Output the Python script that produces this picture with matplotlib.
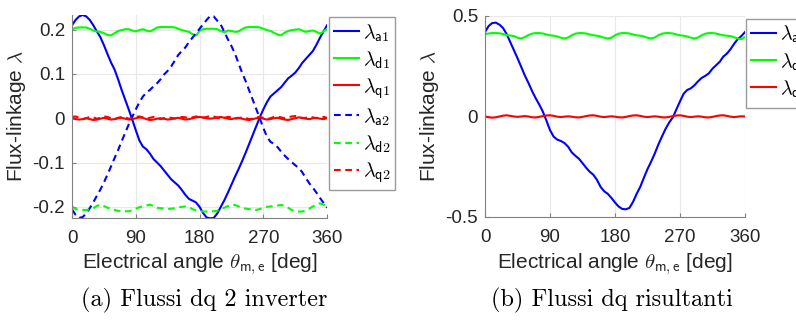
import numpy as np
import matplotlib
matplotlib.use("Agg")
import matplotlib.pyplot as plt

plt.rcParams['font.family'] = ['Liberation Sans', 'DejaVu Sans']
plt.rcParams['mathtext.fontset'] = 'cm'

# electrical angle grid, 5 deg steps
angle = np.arange(0, 361, 5)

# --- two-inverter dq fluxes ---
lam_a1 = [0.210, 0.222, 0.230, 0.233, 0.230, 0.222, 0.210, 0.196, 0.183, 0.165,
          0.145, 0.126, 0.110, 0.088, 0.064, 0.042, 0.020, -0.003, -0.027, -0.050,
          -0.064, -0.070, -0.080, -0.092, -0.100, -0.108, -0.118, -0.128, -0.138, -0.145,
          -0.152, -0.162, -0.173, -0.182, -0.186, -0.190, -0.200, -0.214, -0.224, -0.226,
          -0.225, -0.215, -0.200, -0.185, -0.168, -0.150, -0.132, -0.115, -0.097, -0.078,
          -0.058, -0.038, -0.018, 0.002, 0.020, 0.036, 0.049, 0.056, 0.063, 0.070,
          0.080, 0.090, 0.096, 0.103, 0.113, 0.125, 0.134, 0.143, 0.152, 0.166,
          0.182, 0.196, 0.210]
lam_d1 = [0.201, 0.204, 0.205, 0.205, 0.205, 0.202, 0.198, 0.196, 0.195, 0.192,
          0.188, 0.187, 0.192, 0.197, 0.199, 0.201, 0.201, 0.198, 0.196, 0.199,
          0.201, 0.198, 0.196, 0.200, 0.205, 0.206, 0.206, 0.206, 0.206, 0.205,
          0.202, 0.199, 0.197, 0.195, 0.190, 0.187, 0.197, 0.201, 0.202, 0.202,
          0.202, 0.201, 0.197, 0.194, 0.198, 0.197, 0.195, 0.196, 0.201, 0.205,
          0.206, 0.206, 0.206, 0.205, 0.202, 0.199, 0.197, 0.193, 0.189, 0.187,
          0.193, 0.197, 0.199, 0.200, 0.201, 0.198, 0.195, 0.197, 0.198, 0.195,
          0.191, 0.196, 0.202]
lam_q1 = [0.000, -0.002, -0.003, -0.002, 0.000, -0.002, -0.004, -0.003, -0.001, 0.001,
          -0.001, -0.003, -0.002, 0.000, 0.001, -0.001, -0.003, -0.002, 0.000, 0.002,
          0.001, -0.002, -0.004, -0.003, -0.001, 0.000, -0.001, -0.003, -0.002, 0.000,
          0.001, -0.001, -0.003, -0.002, 0.000, 0.002, 0.003, 0.002, 0.000, -0.001,
          0.000, 0.002, 0.003, 0.001, -0.001, -0.002, 0.000, 0.001, -0.001, -0.003,
          -0.004, -0.002, 0.000, 0.001, -0.001, -0.003, -0.002, 0.000, 0.001, -0.001,
          -0.003, -0.004, -0.002, 0.000, 0.002, 0.001, -0.001, -0.002, 0.000, 0.001,
          -0.001, -0.002, 0.000]
lam_a2 = [-0.206, -0.218, -0.225, -0.223, -0.215, -0.203, -0.190, -0.175, -0.161, -0.145,
          -0.127, -0.109, -0.090, -0.072, -0.052, -0.033, -0.014, 0.003, 0.020, 0.036,
          0.049, 0.058, 0.064, 0.072, 0.079, 0.088, 0.099, 0.107, 0.117, 0.130,
          0.143, 0.152, 0.160, 0.172, 0.182, 0.192, 0.202, 0.212, 0.222, 0.231,
          0.230, 0.220, 0.211, 0.195, 0.178, 0.163, 0.146, 0.124, 0.103, 0.084,
          0.063, 0.042, 0.021, 0.000, -0.022, -0.041, -0.053, -0.058, -0.065, -0.075,
          -0.084, -0.092, -0.099, -0.106, -0.112, -0.122, -0.135, -0.147, -0.157, -0.168,
          -0.180, -0.191, -0.202]
lam_d2 = [-0.199, -0.205, -0.207, -0.207, -0.207, -0.206, -0.203, -0.198, -0.195, -0.198,
          -0.202, -0.204, -0.207, -0.209, -0.210, -0.210, -0.210, -0.208, -0.204, -0.201,
          -0.199, -0.197, -0.195, -0.198, -0.202, -0.203, -0.204, -0.205, -0.204, -0.203,
          -0.201, -0.200, -0.199, -0.201, -0.205, -0.208, -0.210, -0.2105, -0.2105, -0.2105,
          -0.210, -0.209, -0.206, -0.202, -0.198, -0.196, -0.196, -0.199, -0.202, -0.204,
          -0.205, -0.206, -0.207, -0.205, -0.202, -0.200, -0.199, -0.198, -0.197, -0.196,
          -0.197, -0.202, -0.207, -0.210, -0.2105, -0.2105, -0.208, -0.204, -0.199, -0.195,
          -0.192, -0.195, -0.199]
lam_q2 = [0.003, 0.004, 0.001, -0.002, 0.000, 0.003, 0.002, -0.001, 0.001, 0.004,
          0.003, 0.000, -0.002, 0.001, 0.003, 0.002, -0.001, 0.000, 0.003, 0.004,
          0.002, 0.000, 0.001, 0.003, 0.001, -0.002, 0.000, 0.002, 0.001, -0.001,
          0.001, 0.003, 0.002, 0.000, 0.002, 0.004, 0.003, 0.001, 0.003, 0.005,
          0.004, 0.001, -0.001, 0.001, 0.003, 0.002, -0.001, 0.000, 0.002, 0.001,
          -0.002, -0.001, 0.002, 0.003, 0.001, -0.002, 0.000, 0.003, 0.004, 0.002,
          0.000, 0.002, 0.004, 0.005, 0.003, 0.000, 0.001, 0.003, 0.002, 0.000,
          0.002, 0.003, 0.001]

# --- resulting dq fluxes ---
lam_a = [0.420, 0.450, 0.465, 0.467, 0.457, 0.440, 0.410, 0.370, 0.330, 0.290,
         0.248, 0.205, 0.168, 0.128, 0.092, 0.060, 0.025, -0.020, -0.068, -0.100,
         -0.115, -0.122, -0.132, -0.150, -0.178, -0.195, -0.210, -0.232, -0.255, -0.275,
         -0.290, -0.315, -0.350, -0.372, -0.385, -0.405, -0.428, -0.448, -0.460, -0.462,
         -0.455, -0.425, -0.385, -0.350, -0.305, -0.262, -0.225, -0.185, -0.140, -0.100,
         -0.062, -0.030, -0.005, 0.035, 0.075, 0.113, 0.132, 0.140, 0.155, 0.175,
         0.192, 0.202, 0.215, 0.238, 0.255, 0.272, 0.298, 0.313, 0.335, 0.362,
         0.385, 0.400, 0.420]
lam_d = [0.410, 0.413, 0.415, 0.415, 0.414, 0.410, 0.405, 0.403, 0.400, 0.392,
         0.388, 0.395, 0.405, 0.412, 0.415, 0.415, 0.413, 0.408, 0.404, 0.402,
         0.398, 0.392, 0.388, 0.393, 0.404, 0.412, 0.415, 0.415, 0.413, 0.408,
         0.404, 0.402, 0.398, 0.392, 0.388, 0.392, 0.404, 0.412, 0.415, 0.415,
         0.413, 0.408, 0.404, 0.402, 0.398, 0.392, 0.388, 0.393, 0.404, 0.412,
         0.415, 0.415, 0.413, 0.408, 0.404, 0.402, 0.398, 0.392, 0.388, 0.393,
         0.404, 0.412, 0.415, 0.415, 0.413, 0.408, 0.404, 0.402, 0.400, 0.394,
         0.388, 0.385, 0.395]
lam_q = [0.000, -0.004, -0.006, -0.004, 0.000, 0.004, 0.006, 0.003, 0.000, -0.002,
         0.000, 0.002, 0.000, -0.004, -0.005, -0.002, 0.002, 0.005, 0.006, 0.003,
         -0.001, -0.003, -0.001, 0.001, -0.001, -0.004, -0.005, -0.002, 0.002, 0.005,
         0.006, 0.003, -0.001, -0.003, -0.001, 0.001, -0.001, -0.004, -0.005, -0.002,
         0.002, 0.005, 0.006, 0.003, -0.001, -0.003, -0.001, 0.001, -0.001, -0.004,
         -0.005, -0.002, 0.002, 0.005, 0.006, 0.003, -0.001, -0.003, -0.001, 0.001,
         -0.001, -0.004, -0.005, -0.002, 0.002, 0.005, 0.006, 0.003, -0.001, -0.003,
         -0.001, 0.001, 0.000]

xticks = [0, 90, 180, 270, 360]
BLUE, GREEN, RED = '#0000ff', '#00ff00', '#ff0000'
DASH = (3.2, 2.2)
LEG = dict(loc='upper left', fontsize=14.5, frameon=True, fancybox=False,
           edgecolor='#9a9a9a', framealpha=1, handlelength=1.25, handletextpad=0.2,
           labelspacing=0.28, borderpad=0.25, borderaxespad=0.0)


def style_axes(ax):
    ax.set_xlim(0, 360)
    ax.set_xticks(xticks)
    ax.set_xticklabels([str(t) for t in xticks])
    ax.grid(True, color='#e8e8e8', linewidth=0.8)
    ax.set_axisbelow(True)
    for s in ['top', 'right']:
        ax.spines[s].set_visible(False)
    for s in ['left', 'bottom']:
        ax.spines[s].set_color('#808080')
        ax.spines[s].set_linewidth(0.8)
    ax.tick_params(direction='in', length=3, color='#808080', labelsize=13.5,
                   labelcolor='#262626')
    ax.tick_params(axis='x', pad=9)
    ax.tick_params(axis='y', pad=5)
    ax.set_xlabel(r'Electrical angle $\theta_{\mathsf{m,e}}$ [deg]', fontsize=15,
                  color='#262626', labelpad=3)
    ax.set_ylabel(r'Flux-linkage $\lambda$', fontsize=15, color='#262626', labelpad=3)


fig = plt.figure(figsize=(7.96, 3.2), dpi=100)

# (a) two inverters
ax1 = fig.add_axes([0.0905, 0.319, 0.3204, 0.634])
ax1.plot(angle, lam_a1, color=BLUE, lw=1.5, label=r'$\lambda_{\mathsf{a1}}$')
ax1.plot(angle, lam_d1, color=GREEN, lw=1.5, label=r'$\lambda_{\mathsf{d1}}$')
ax1.plot(angle, lam_q1, color=RED, lw=1.5, label=r'$\lambda_{\mathsf{q1}}$')
ax1.plot(angle, lam_a2, color=BLUE, lw=1.5, dashes=DASH, label=r'$\lambda_{\mathsf{a2}}$')
ax1.plot(angle, lam_d2, color=GREEN, lw=1.5, dashes=DASH, label=r'$\lambda_{\mathsf{d2}}$')
ax1.plot(angle, lam_q2, color=RED, lw=1.5, dashes=DASH, label=r'$\lambda_{\mathsf{q2}}$')
ax1.set_ylim(-0.225, 0.233)
ax1.set_yticks([-0.2, -0.1, 0, 0.1, 0.2])
ax1.set_yticklabels(['-0.2', '-0.1', '0', '0.1', '0.2'])
style_axes(ax1)
ax1.legend(bbox_to_anchor=(1.006, 0.99), **LEG)

# (b) resulting
ax2 = fig.add_axes([0.6093, 0.322, 0.3266, 0.628])
ax2.plot(angle, lam_a, color=BLUE, lw=1.5, label=r'$\lambda_{\mathsf{a}}$')
ax2.plot(angle, lam_d, color=GREEN, lw=1.5, label=r'$\lambda_{\mathsf{d}}$')
ax2.plot(angle, lam_q, color=RED, lw=1.5, label=r'$\lambda_{\mathsf{q}}$')
ax2.set_ylim(-0.5, 0.5)
ax2.set_yticks([-0.5, 0, 0.5])
ax2.set_yticklabels(['-0.5', '0', '0.5'])
style_axes(ax2)
ax2.legend(bbox_to_anchor=(1.004, 0.985), **LEG)

fig.text(0.257, 0.041, '(a) Flussi dq 2 inverter', family='cmr10', fontsize=17.5,
         ha='center', va='baseline')
fig.text(0.769, 0.041, '(b) Flussi dq risultanti', family='cmr10', fontsize=17.5,
         ha='center', va='baseline')

fig.savefig('out.png', dpi=100)
